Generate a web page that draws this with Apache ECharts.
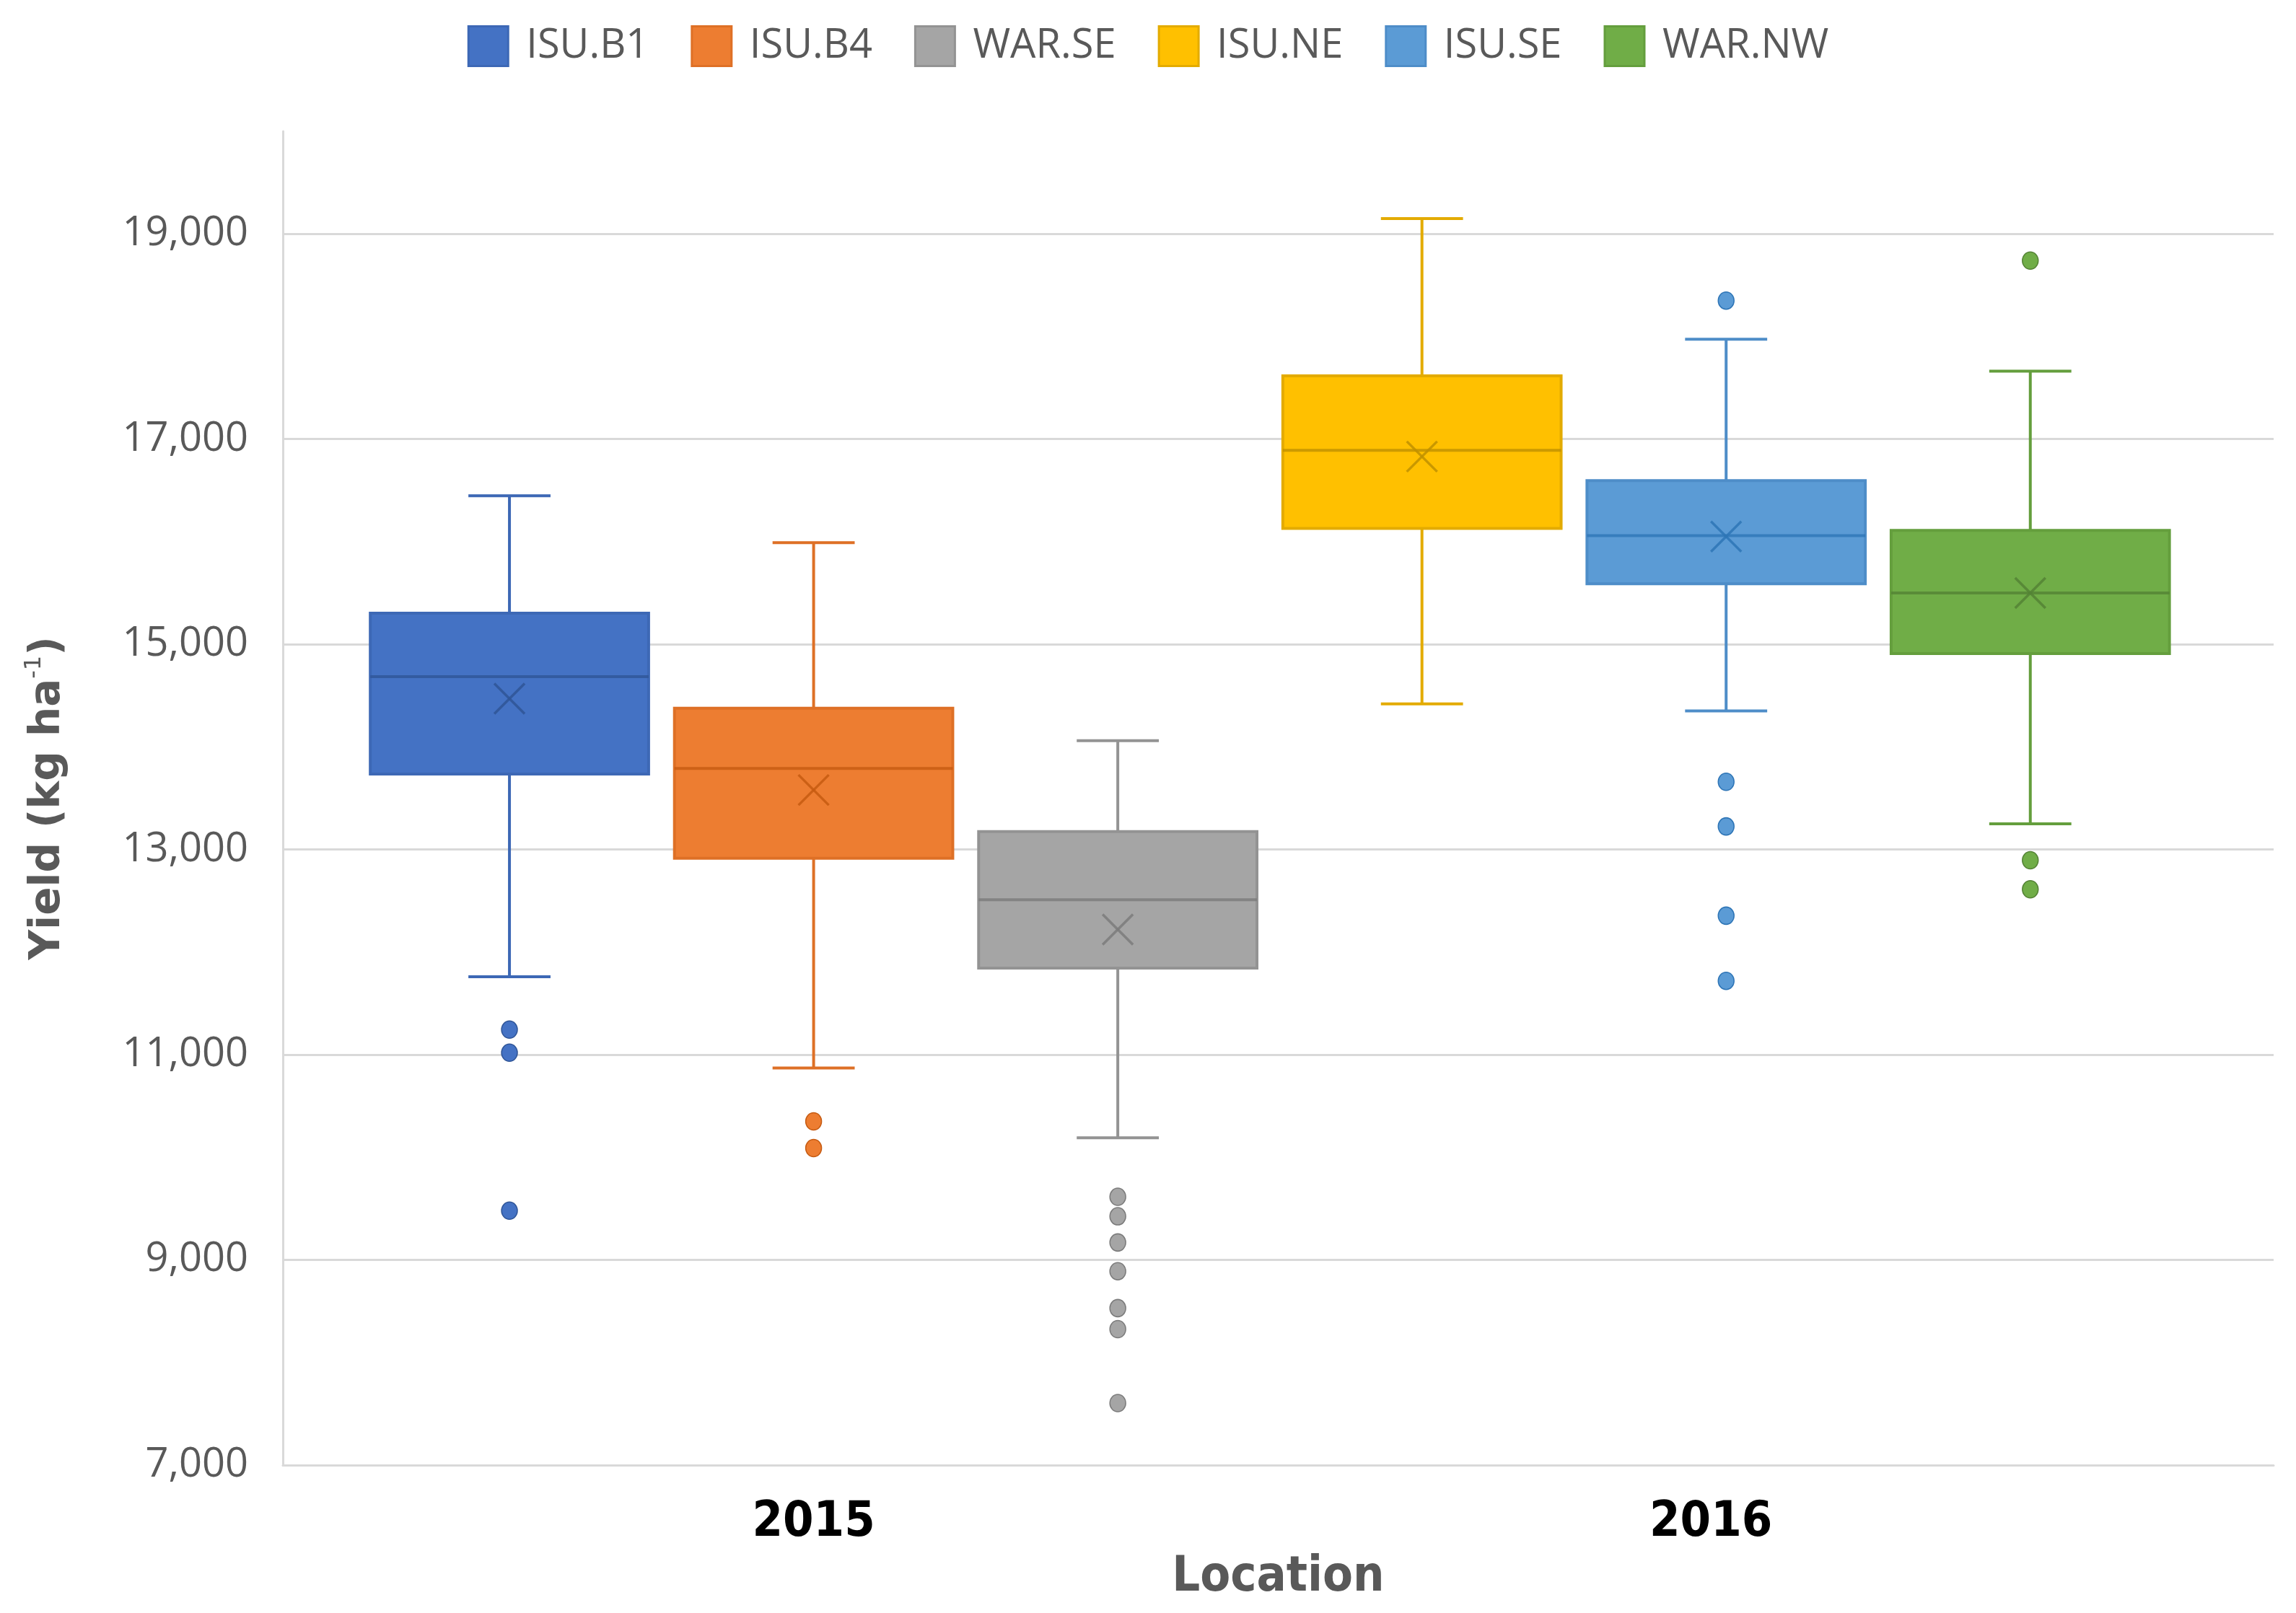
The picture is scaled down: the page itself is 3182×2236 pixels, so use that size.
<!DOCTYPE html>
<html>
<head>
<meta charset="utf-8">
<script src="https://cdn.jsdelivr.net/npm/echarts@6/dist/echarts.min.js"></script>
<style>
html,body{margin:0;padding:0;background:#fff;}
#chart{width:3182px;height:2236px;}
</style>
</head>
<body>
<div id="chart"></div>
<script>
// ---- data ----
const locations = ['ISU.B1', 'ISU.B4', 'WAR.SE', 'ISU.NE', 'ISU.SE', 'WAR.NW'];
const years = ['2015', '2016'];
const whiskerLow = [11760, 10870, 10190, 14420, 14350, 13250];
const quartile1 = [13735, 12915, 11845, 16130, 15590, 14910];
const medians = [14685, 13790, 12510, 16890, 16060, 15500];
const quartile3 = [15303, 14377, 13175, 17616, 16595, 16110];
const whiskerHigh = [16447, 15990, 14060, 19150, 17973, 17662];
const means = [14470, 13580, 12220, 16830, 16050, 15500];
const outliers = [
  [11245, 11020, 9480],
  [10350, 10090],
  [9615, 9425, 9170, 8890, 8530, 8325, 7605],
  [],
  [18350, 13660, 13225, 12355, 11720],
  [18740, 12895, 12612]
];
const yTicks = [7000, 9000, 11000, 13000, 15000, 17000, 19000];

// ---- styles ----
const fills = ['#4472C4', '#ED7D31', '#A5A5A5', '#FFC000', '#5B9BD5', '#70AD47'];
const lines = ['#3D68B5', '#DE7026', '#939393', '#E3AB00', '#4E8DC8', '#649E3D'];
const darks = ['#2F5597', '#C55A11', '#7B7B7B', '#BF9000', '#2E75B6', '#548235'];
const BOX_RATIO = 0.915;
const CAP_RATIO = 0.27;
const LW = 4;

function makeRender(k) {
  return function (params, api) {
    const i = api.value(0);
    const slot = api.size([1, 0])[0];
    const bw = slot * BOX_RATIO, cw = slot * CAP_RATIO;
    const x = api.coord([i, api.value(3)])[0];
    const yLo = api.coord([i, api.value(1)])[1];
    const yQ1 = api.coord([i, api.value(2)])[1];
    const yMd = api.coord([i, api.value(3)])[1];
    const yQ3 = api.coord([i, api.value(4)])[1];
    const yHi = api.coord([i, api.value(5)])[1];
    const yMn = api.coord([i, api.value(6)])[1];
    const m = 21;
    const lineStyle = {stroke: lines[k], lineWidth: LW, fill: null};
    return {
      type: 'group',
      children: [
        {type: 'line', shape: {x1: x, y1: yHi, x2: x, y2: yQ3}, style: lineStyle},
        {type: 'line', shape: {x1: x, y1: yQ1, x2: x, y2: yLo}, style: lineStyle},
        {type: 'line', shape: {x1: x - cw / 2, y1: yHi, x2: x + cw / 2, y2: yHi}, style: lineStyle},
        {type: 'line', shape: {x1: x - cw / 2, y1: yLo, x2: x + cw / 2, y2: yLo}, style: lineStyle},
        {type: 'rect', shape: {x: x - bw / 2, y: yQ3, width: bw, height: yQ1 - yQ3},
          style: {fill: fills[k], stroke: lines[k], lineWidth: LW}},
        {type: 'line', shape: {x1: x - bw / 2, y1: yMd, x2: x + bw / 2, y2: yMd},
          style: {stroke: darks[k], lineWidth: LW, opacity: 0.8}},
        {type: 'line', shape: {x1: x - m, y1: yMn - m, x2: x + m, y2: yMn + m},
          style: {stroke: darks[k], lineWidth: 3.5, opacity: 0.85}},
        {type: 'line', shape: {x1: x - m, y1: yMn + m, x2: x + m, y2: yMn - m},
          style: {stroke: darks[k], lineWidth: 3.5, opacity: 0.85}}
      ]
    };
  };
}

const series = [];
locations.forEach(function (name, k) {
  series.push({
    name: name,
    type: 'custom',
    renderItem: makeRender(k),
    itemStyle: {color: fills[k], borderColor: lines[k]},
    encode: {x: 0, y: [1, 2, 3, 4, 5, 6]},
    data: [[k, whiskerLow[k], quartile1[k], medians[k], quartile3[k], whiskerHigh[k], means[k]]],
    z: 3
  });
  series.push({
    name: name,
    type: 'scatter',
    symbol: 'circle',
    symbolSize: [22, 24],
    itemStyle: {color: fills[k], borderColor: darks[k], borderWidth: 1.5, opacity: 1},
    data: outliers[k].map(function (v) { return [k, v]; }),
    z: 4
  });
});

const condensed = 'DejaVu Sans Condensed, DejaVu Sans, sans-serif';
const chart = echarts.init(document.getElementById('chart'), null, {renderer: 'canvas'});
chart.setOption({
  animation: false,
  backgroundColor: '#ffffff',
  legend: {
    data: locations,
    top: 30,
    left: 'center',
    icon: 'rect',
    itemWidth: 55,
    itemHeight: 55,
    itemGap: 58,
    itemStyle: {borderWidth: 3},
    textStyle: {fontFamily: 'Open Sans', fontSize: 56, color: '#595959', padding: [0, 0, 0, 20]}
  },
  grid: {left: 392, right: 31, top: 182, bottom: 205, containLabel: false},
  xAxis: {
    type: 'value',
    min: -0.745,
    max: 5.8,
    name: 'Location',
    nameLocation: 'middle',
    nameGap: 122,
    nameTextStyle: {fontFamily: condensed, fontWeight: 'bold', fontSize: 68, color: '#595959'},
    axisLine: {show: true, onZero: false, lineStyle: {color: '#D9D9D9', width: 3}},
    axisTick: {show: false},
    splitLine: {show: false},
    axisLabel: {
      customValues: [1, 3.95],
      margin: 46,
      formatter: function (v) { return v < 2.5 ? years[0] : years[1]; },
      fontFamily: condensed,
      fontWeight: 'bold',
      fontSize: 68,
      color: '#000000'
    }
  },
  yAxis: {
    type: 'value',
    min: 7000,
    max: 20000,
    name: '{a|Yield (kg ha}{b|-1}{a|)}',
    nameLocation: 'middle',
    nameRotate: 90,
    nameGap: 290,
    nameTextStyle: {
      rich: {
        a: {fontFamily: 'DejaVu Sans', fontWeight: 'bold', fontSize: 58, color: '#595959', lineHeight: 70},
        b: {fontFamily: 'DejaVu Sans', fontWeight: 'normal', fontSize: 32, color: '#595959', verticalAlign: 'top', lineHeight: 70}
      }
    },
    axisLine: {show: true, onZero: false, lineStyle: {color: '#D9D9D9', width: 3}},
    axisTick: {show: false, customValues: yTicks},
    axisLabel: {
      customValues: yTicks,
      margin: 48,
      fontFamily: 'Open Sans',
      fontSize: 56,
      color: '#595959',
      formatter: function (v) { return v.toLocaleString('en-US'); }
    },
    splitLine: {show: true, lineStyle: {color: '#D9D9D9', width: 3}}
  },
  series: series
});
</script>
</body>
</html>
